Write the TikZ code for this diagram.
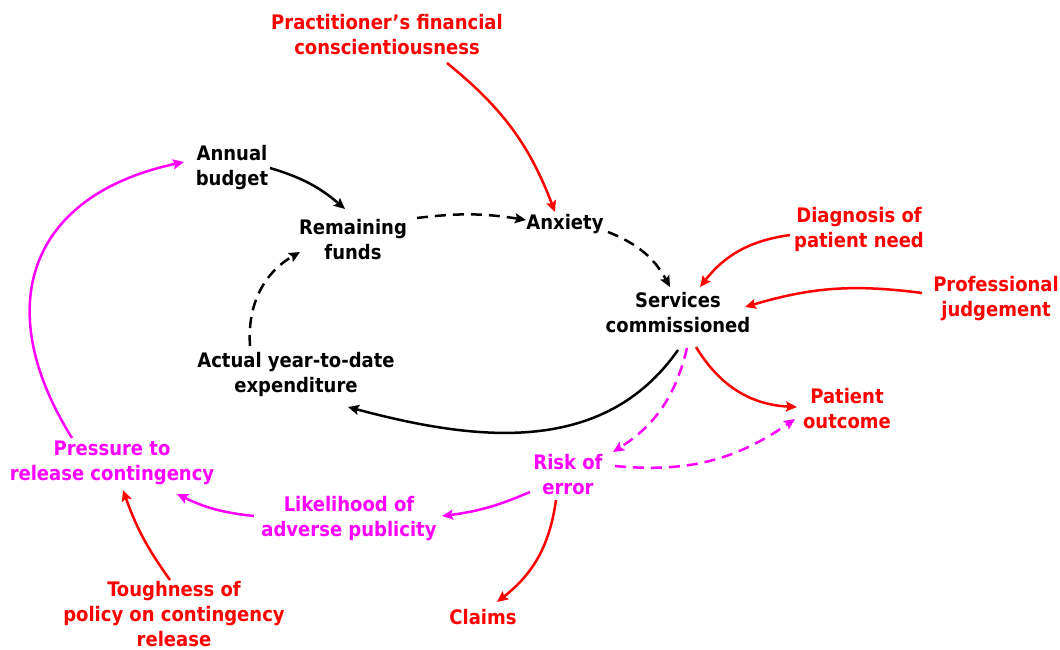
\documentclass[tikz,border=0pt]{standalone}
\usepackage{fontspec}
\setmainfont{DejaVu Sans Condensed}[BoldFont={DejaVu Sans Condensed Bold}]
\usetikzlibrary{arrows.meta}

\definecolor{linkred}{RGB}{255,0,0}
\definecolor{linkpink}{RGB}{255,0,255}

\begin{document}
\begin{tikzpicture}[x=1pt, y=-1pt,
    var/.style={font=\bfseries\fontsize{20}{25}\selectfont, align=center, inner sep=0pt},
    link/.style={-{Stealth[length=11pt, width=10pt, inset=2pt]}, line width=2.5pt},
    lagged/.style={link, dash pattern=on 11pt off 7pt}]

    \useasboundingbox (0,0) rectangle (1060,650);

    % Core loop
    \node[var] (budget) at (232,168) {Annual\\budget};
    \node[var] (funds) at (353,240) {Remaining\\funds};
    \node[var] (anxiety) at (565,224) {Anxiety};
    \node[var] (services) at (678,313) {Services\\commissioned};
    \node[var] (spend) at (296,374) {Actual year-to-date\\expenditure};

    % External influences
    \node[var, linkred] (conscience) at (387,35) {Practitioner’s financial\\conscientiousness};
    \node[var, linkred] (diagnosis) at (859,229) {Diagnosis of\\patient need};
    \node[var, linkred] (judgement) at (996,299) {Professional\\judgement};
    \node[var, linkred] (outcome) at (847,409) {Patient\\outcome};
    \node[var, linkred] (claims) at (483,617) {Claims};
    \node[var, linkred] (toughness) at (174,614) {Toughness of\\policy on contingency\\release};

    % Contingency loop
    \node[var, linkpink] (risk) at (568,475) {Risk of\\error};
    \node[var, linkpink] (publicity) at (349,519) {Likelihood of\\adverse publicity};
    \node[var, linkpink] (pressure) at (112,463) {Pressure to\\release contingency};

    % Black links
    \draw[link] ([shift={(38,0)}]budget.center) to[bend left=12] ([shift={(-8,-31)}]funds.center);
    \draw[lagged] ([shift={(64,-22)}]funds.center) to[bend left=8] ([shift={(-39,-4)}]anxiety.center);
    \draw[lagged] ([shift={(43,8)}]anxiety.center) to[bend left=20] ([shift={(-8,-26)}]services.center);
    \draw[link] ([shift={(0,37)}]services.center) to[out=-125, in=-15] ([shift={(52,33)}]spend.center);
    \draw[lagged] ([shift={(-46,-28)}]spend.center) to[bend left=32] ([shift={(-53,12)}]funds.center);

    % Red links
    \draw[link, linkred] ([shift={(60,28)}]conscience.center) to[bend left=15] ([shift={(-10,-12)}]anxiety.center);
    \draw[link, linkred] ([shift={(-69,6)}]diagnosis.center) to[bend right=22] ([shift={(22,-26)}]services.center);
    \draw[link, linkred] ([shift={(-74,-6)}]judgement.center) to[bend right=12] ([shift={(67,-6)}]services.center);
    \draw[link, linkred] ([shift={(18,34)}]services.center) to[bend right=28] ([shift={(-50,-2)}]outcome.center);
    \draw[link, linkred] ([shift={(-12,25)}]risk.center) to[bend left=22] ([shift={(14,-15)}]claims.center);
    \draw[link, linkred] ([shift={(-4,-34)}]toughness.center) to[bend left=8] ([shift={(11,27)}]pressure.center);

    % Pink links
    \draw[lagged, linkpink] ([shift={(9,35)}]services.center) to[bend left=22] ([shift={(45,-23)}]risk.center);
    \draw[lagged, linkpink] ([shift={(47,-9)}]risk.center) to[bend right=20] ([shift={(-52,10)}]outcome.center);
    \draw[link, linkpink] ([shift={(-38,17)}]risk.center) to[bend left=8] ([shift={(93,-3)}]publicity.center);
    \draw[link, linkpink] ([shift={(-95,-3)}]publicity.center) to[bend left=10] ([shift={(65,31)}]pressure.center);
    \draw[link, linkpink] ([shift={(-40,-25)}]pressure.center) to[out=122, in=192, looseness=1.35] ([shift={(-48,-6)}]budget.center);

\end{tikzpicture}
\end{document}
